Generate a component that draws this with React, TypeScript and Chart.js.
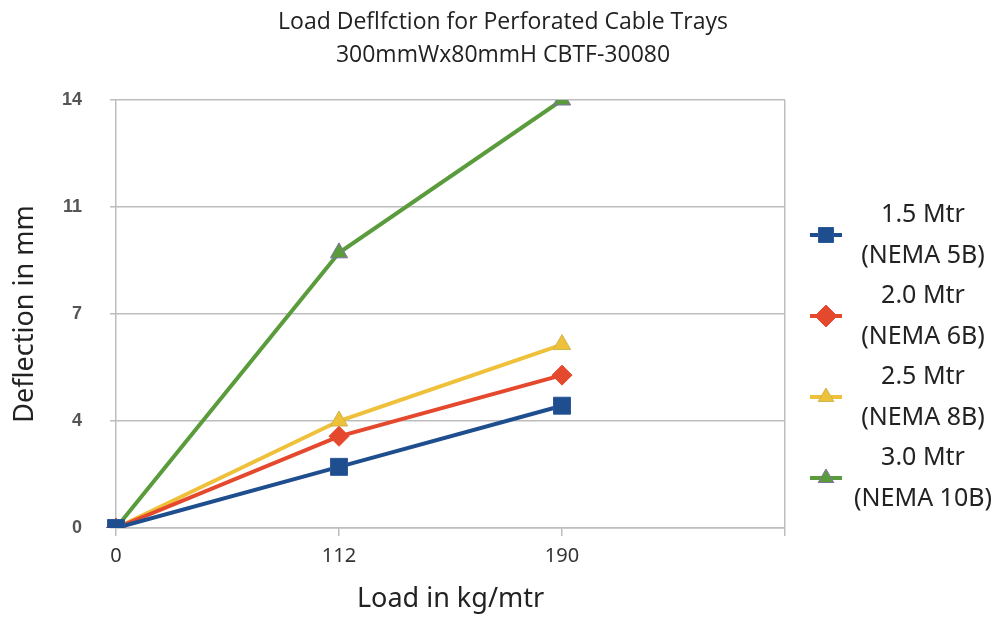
import React, { useEffect, useRef } from "react";
import { Chart, registerables } from "chart.js";

Chart.register(...registerables);

const titleLines = ["Load Deflfction for Perforated Cable Trays", "300mmWx80mmH CBTF-30080"];
const xTitle = "Load in kg/mtr";
const yTitle = "Deflection in mm";
const categories = ["0", "112", "190", ""];
const series15 = [0, 2, 4];
const series20 = [0, 3, 5];
const series25 = [0, 3.5, 6];
const series30 = [0, 9, 14];
const seriesLabels = [
  ["1.5 Mtr", "(NEMA 5B)"],
  ["2.0 Mtr", "(NEMA 6B)"],
  ["2.5 Mtr", "(NEMA 8B)"],
  ["3.0 Mtr", "(NEMA 10B)"],
];
const seriesColors = ["#1f4e8f", "#e4492d", "#efc03a", "#5a9c3c"];
const markerBorders = ["#2a5a9a", "#e4492d", "#c8b64e", "#7f70a8"];
const pointStyles = ["rect", "rectRot", "triangle", "triangle"];
const pointRadii = [12, 10, 10, 10];
const yMax = 14;
const yStep = 3.5;

const GRID = "#bdbdbd";

function drawMarker(ctx: CanvasRenderingContext2D, style: string, x: number, y: number, color: string, border: string) {
  ctx.save();
  ctx.fillStyle = color;
  ctx.strokeStyle = border;
  ctx.lineWidth = 1;
  ctx.beginPath();
  if (style === "rect") {
    const s = 7.5;
    ctx.rect(x - s, y - s, 2 * s, 2 * s);
  } else if (style === "rectRot") {
    const r = 11;
    ctx.moveTo(x, y - r);
    ctx.lineTo(x + r, y);
    ctx.lineTo(x, y + r);
    ctx.lineTo(x - r, y);
    ctx.closePath();
  } else {
    const r = 9;
    ctx.moveTo(x, y - r);
    ctx.lineTo(x + r * 0.866, y + r * 0.5);
    ctx.lineTo(x - r * 0.866, y + r * 0.5);
    ctx.closePath();
  }
  ctx.fill();
  ctx.stroke();
  ctx.restore();
}

const sideLegend = {
  id: "sideLegend",
  afterDraw(chart: any) {
    const { ctx, chartArea } = chart;
    const lx = chartArea.right + 25;
    const tx = chartArea.right + 138;
    const startY = 235;
    const stepY = 81;
    chart.data.datasets.forEach((ds: any, i: number) => {
      const cy = startY + i * stepY;
      ctx.save();
      ctx.strokeStyle = seriesColors[i];
      ctx.lineWidth = 4;
      ctx.beginPath();
      ctx.moveTo(lx, cy);
      ctx.lineTo(lx + 32, cy);
      ctx.stroke();
      ctx.restore();
      drawMarker(ctx, pointStyles[i], lx + 16, cy, seriesColors[i], markerBorders[i]);
      ctx.save();
      ctx.fillStyle = "#222";
      ctx.font = "25px 'Noto Sans'";
      ctx.textAlign = "center";
      ctx.textBaseline = "middle";
      const lines = seriesLabels[i];
      ctx.fillText(lines[0], tx, cy - 20);
      ctx.fillText(lines[1], tx, cy + 21);
      ctx.restore();
    });
  },
};

export default function App() {
  const ref = useRef<HTMLCanvasElement | null>(null);
  useEffect(() => {
    if (!ref.current) return;
    const data = [series15, series20, series25, series30];
    const chart = new Chart(ref.current, {
      type: "line",
      data: {
        labels: categories,
        datasets: data.map((d, i) => ({
          label: seriesLabels[i].join(" "),
          data: d,
          borderColor: seriesColors[i],
          backgroundColor: seriesColors[i],
          borderWidth: 4,
          pointStyle: pointStyles[i] as any,
          pointRadius: pointRadii[i],
          pointBackgroundColor: seriesColors[i],
          pointBorderColor: markerBorders[i],
          pointBorderWidth: 1,
          tension: 0,
          fill: false,
        })),
      },
      options: {
        animation: false,
        responsive: false,
        layout: { padding: { left: 0, right: 0, top: 0, bottom: 0 } },
        plugins: {
          legend: { display: false },
          tooltip: { enabled: false },
          title: {
            display: true,
            text: titleLines,
            color: "#222",
            font: { family: "'Open Sans'", size: 23, weight: "normal", lineHeight: 33 / 23 },
            padding: { top: 6, bottom: 28 },
          },
        },
        scales: {
          x: {
            type: "category",
            offset: false,
            afterFit: (s: any) => {
              s.height = 92;
            },
            grid: {
              color: (c: any) => (c.index === 0 || c.index === 3 ? GRID : "rgba(0,0,0,0)"),
              tickColor: GRID,
              lineWidth: 1.5,
              tickLength: 8,
              drawOnChartArea: true,
            },
            border: { display: true, color: GRID, width: 1.5 },
            ticks: {
              color: "#333",
              padding: 8,
              maxRotation: 0,
              autoSkip: false,
              font: { family: "'Noto Sans'", size: 20 },
            },
            title: {
              display: true,
              text: xTitle,
              color: "#222",
              font: { family: "'Noto Sans'", size: 27 },
              padding: { top: 0, bottom: 4 },
            },
          },
          y: {
            min: 0,
            max: yMax,
            afterFit: (s: any) => {
              s.width = 116;
            },
            grid: { color: GRID, lineWidth: 1.5, tickLength: 6 },
            border: { display: false },
            ticks: {
              stepSize: yStep,
              color: "#555",
              padding: 28,
              font: { family: "'Liberation Sans'", size: 18, weight: "bold" },
              callback: (v: any) => String(Math.round(Number(v))),
            },
            title: {
              display: true,
              text: yTitle,
              color: "#222",
              font: { family: "'Noto Sans'", size: 27 },
              padding: { top: 9, bottom: 0 },
            },
          },
          legendSpace: {
            type: "linear",
            position: "right",
            display: true,
            afterFit: (s: any) => {
              s.width = 221;
            },
            grid: { display: false, drawOnChartArea: false, drawTicks: false },
            border: { display: false },
            ticks: { display: false },
          },
        },
      },
      plugins: [sideLegend],
    });
    return () => chart.destroy();
  }, []);
  return (
    <div style={{ position: "fixed", left: 0, top: 0, width: 1006, height: 620, background: "#fff" }}>
      <canvas ref={ref} width={1006} height={620} />
    </div>
  );
}
